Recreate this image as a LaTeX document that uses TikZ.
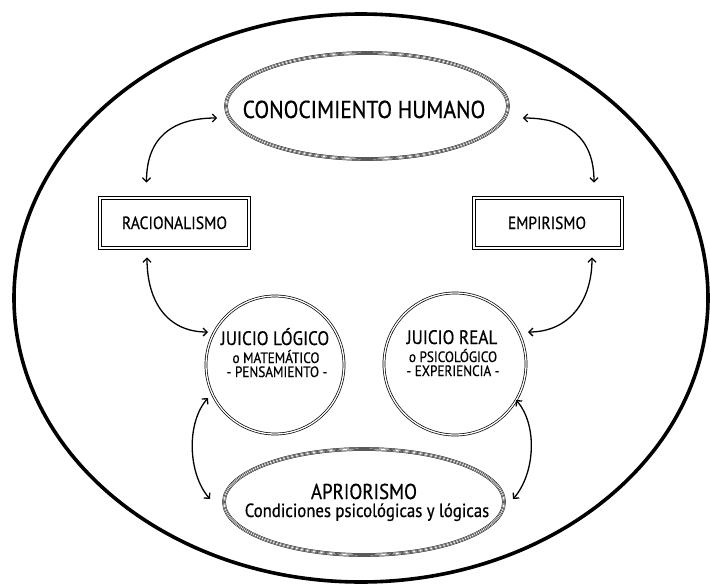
\documentclass[tikz,border=0pt]{standalone}
\usepackage{fontspec}
\setmainfont{PT Sans}[FakeStretch=0.88, FakeBold=0.6]
\usetikzlibrary{shapes.geometric,arrows.meta,calc}
\begin{document}
\begin{tikzpicture}[x=1pt,y=-1pt,
  frame/.style={line width=3.6pt},
  ringed/.style={ellipse, inner sep=0pt,
    preaction={draw,line width=3.6pt},
    preaction={draw=white,line width=2.6pt},
    draw,line width=1.6pt,
    postaction={draw=white,line width=0.7pt}},
  boxed/.style={rectangle, inner sep=0pt, draw, line width=0.8pt,
    double, double distance=1.6pt},
  disc/.style={circle, inner sep=0pt, draw, line width=0.7pt,
    double, double distance=1.3pt},
  label/.style={inner sep=0pt, anchor=base},
  link/.style={line width=1.3pt, {Straight Barb[length=4pt,width=8pt]}-{Straight Barb[length=4pt,width=8pt]}}
]
\useasboundingbox (0,0) rectangle (710,584);

% outer boundary
\draw[frame] (361,298) ellipse [x radius=347, y radius=284];

% main nodes
\node[ringed, minimum width=282pt, minimum height=106pt] (con) at (367,106) {};
\node[label, font=\fontsize{24.5}{26}\selectfont] (contxt) at (364,118) {CONOCIMIENTO HUMANO};

\node[boxed, minimum width=149pt, minimum height=50pt] (rac) at (174.5,223) {};
\node[label, font=\fontsize{17.7}{19}\selectfont] (ractxt) at (174.5,229) {RACIONALISMO};

\node[boxed, minimum width=148pt, minimum height=50pt] (emp) at (548,223) {};
\node[label, font=\fontsize{17.5}{19}\selectfont] (emptxt) at (547,229) {EMPIRISMO};

\node[disc, minimum size=138pt] (jl) at (275,365) {};
\node[label, font=\fontsize{19.5}{21}\selectfont] (jl1) at (275,345) {JUICIO LÓGICO};
\node[label, font=\fontsize{15}{17}\selectfont] (jl2) at (276,363) {o MATEMÁTICO};
\node[label, font=\fontsize{15}{17}\selectfont] (jl3) at (277,377) {- PENSAMIENTO -};

\node[disc, minimum size=142pt] (jr) at (455,364) {};
\node[label, font=\fontsize{19.5}{21}\selectfont] (jr1) at (452,344) {JUICIO REAL};
\node[label, font=\fontsize{15}{17}\selectfont] (jr2) at (453,362) {o PSICOLÓGICO};
\node[label, font=\fontsize{15}{17}\selectfont] (jr3) at (453,376) {- EXPERIENCIA -};

\node[ringed, minimum width=280pt, minimum height=106pt] (ap) at (364,502) {};
\node[label, font=\fontsize{21.5}{23}\selectfont] (ap1) at (364,499) {APRIORISMO};
\node[label, font=\fontsize{19}{21}\selectfont] (ap2) at (367,517) {Condiciones psicológicas y lógicas};

% connectors
\draw[link] ($(rac.north)+(-28,-15)$) .. controls +(0,-45) and +(-45,0) .. ($(con.west)+(-8,12)$);
\draw[link] ($(emp.north)+(46,-15)$) .. controls +(0,-45) and +(45,0) .. ($(con.east)+(14,12)$);
\draw[link] ($(rac.south)+(-27.5,9)$) .. controls +(0,45) and +(-40,0) .. ($(jl.center)+(-67,-33)$);
\draw[link] ($(emp.south)+(44,9)$) .. controls +(0,45) and +(40,0) .. ($(jr.center)+(73,-32)$);
\draw[link] ($(jl.center)+(-67,33)$) .. controls +(-22,25) and +(-22,-25) .. ($(ap.center)+(-154,-3)$);
\draw[link] ($(jr.center)+(61,36)$) .. controls +(22,25) and +(22,-25) .. ($(ap.center)+(149,-3)$);
\end{tikzpicture}
\end{document}
